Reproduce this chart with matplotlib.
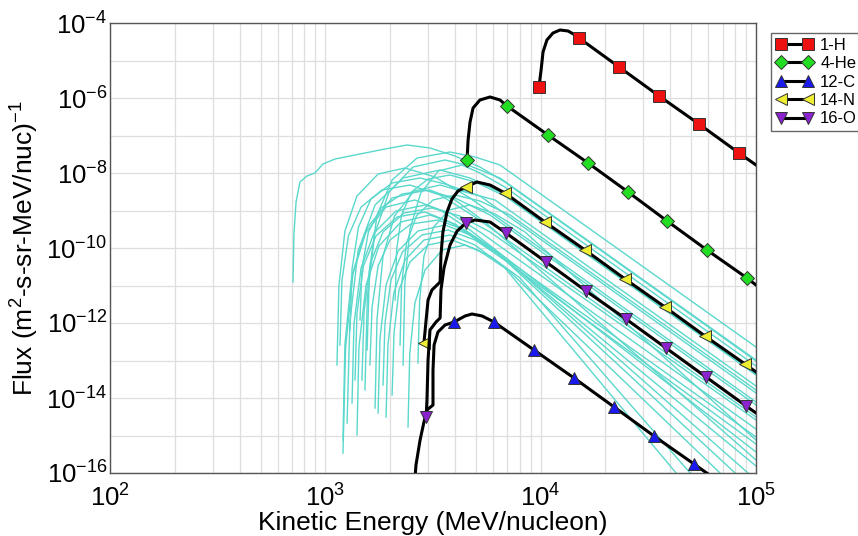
import numpy as np
import matplotlib
matplotlib.use("Agg")
import matplotlib.pyplot as plt
from matplotlib.lines import Line2D
from matplotlib.ticker import FixedLocator, LogLocator, LogFormatterSciNotation, NullFormatter

plt.rcParams["font.family"] = ["Liberation Sans", "DejaVu Sans"]
plt.rcParams["mathtext.fontset"] = "custom"
plt.rcParams["mathtext.rm"] = "Liberation Sans"
plt.rcParams["mathtext.it"] = "Liberation Sans:italic"
plt.rcParams["mathtext.bf"] = "Liberation Sans:bold"

# ─── DATA (log10 of kinetic energy [MeV/nucleon] and log10 of flux) ──────────
H_LGE = [3.992, 4.002, 4.011, 4.029, 4.057, 4.090, 4.127, 4.160, 4.178, 4.364, 4.550, 4.735, 4.921, 5.0]
H_LGF = [-5.707, -5.253, -4.773, -4.453, -4.267, -4.187, -4.213, -4.320, -4.400, -5.173, -5.947, -6.693, -7.467, -7.787]
H_MARK = [0, 8, 9, 10, 11, 12]

HE_LGE = [3.658, 3.663, 3.672, 3.686, 3.718, 3.765, 3.811, 3.844, 4.034, 4.220, 4.406, 4.587, 4.772, 4.958, 5.0]
HE_LGF = [-7.653, -7.120, -6.640, -6.267, -6.053, -5.973, -6.053, -6.213, -6.987, -7.733, -8.507, -9.280, -10.053, -10.800, -10.987]
HE_MARK = [0, 7, 8, 9, 10, 11, 12, 13]

C_LGE = [3.412, 3.421, 3.440, 3.458, 3.472, 3.500, 3.500, 3.505, 3.523, 3.556, 3.598, 3.649, 3.681, 3.728,
         3.783, 3.969, 4.155, 4.341, 4.526, 4.712, 4.833]
C_LGF = [-16.453, -15.787, -15.120, -14.640, -14.320, -14.187, -13.253, -12.587, -12.240, -12.053, -11.973,
         -11.813, -11.760, -11.813, -11.973, -12.720, -13.467, -14.240, -15.013, -15.760, -16.253]
C_MARK = [0, 10, 14, 15, 16, 17, 18, 19]

N_LGE = [3.458, 3.468, 3.477, 3.495, 3.533, 3.537, 3.546, 3.565, 3.588, 3.616, 3.653, 3.704, 3.765, 3.834,
         4.020, 4.206, 4.392, 4.577, 4.763, 4.949, 5.0]
N_LGF = [-12.533, -11.920, -11.387, -11.120, -10.907, -10.187, -9.573, -9.040, -8.693, -8.480, -8.373, -8.240,
         -8.320, -8.533, -9.307, -10.053, -10.827, -11.573, -12.347, -13.093, -13.307]
N_MARK = [0, 10, 13, 14, 15, 16, 17, 18, 19]

O_LGE = [3.468, 3.472, 3.477, 3.486, 3.514, 3.533, 3.537, 3.551, 3.579, 3.612, 3.653, 3.695, 3.765, 3.839,
         4.025, 4.211, 4.396, 4.582, 4.768, 4.954, 5.0]
O_LGF = [-14.507, -14.053, -12.987, -12.187, -11.973, -11.867, -11.120, -10.533, -9.920, -9.547, -9.333, -9.253,
         -9.307, -9.600, -10.373, -11.147, -11.893, -12.667, -13.440, -14.213, -14.400]
O_MARK = [0, 10, 13, 14, 15, 16, 17, 18, 19]

SPECIES = ["1-H", "4-He", "12-C", "14-N", "16-O"]

# individual (cyan) spectra, (log10 E, log10 flux) pairs
CYAN_TRACKS = [
    [(2.850, -10.907), (2.854, -9.653), (2.864, -8.773), (2.882, -8.240), (2.915, -8.080), (2.952, -8.000),
     (2.989, -7.760), (3.045, -7.627), (3.161, -7.493), (3.277, -7.360), (3.379, -7.253), (3.486, -7.333),
     (3.602, -7.547), (3.718, -7.840), (3.834, -8.240), (5.0, -13.013)],
    [(3.194, -12.720), (3.205, -10.613), (3.240, -9.120), (3.310, -8.187), (3.426, -7.600), (3.579, -7.440),
     (3.695, -7.573), (3.811, -7.787), (5.0, -12.640)],
    [(3.184, -13.787), (3.195, -11.333), (3.229, -9.627), (3.296, -8.507), (3.407, -7.840), (3.556, -7.653),
     (3.672, -7.813), (3.811, -8.133), (5.0, -12.987)],
    [(3.361, -13.120), (3.369, -10.987), (3.393, -9.493), (3.443, -8.533), (3.525, -7.947), (3.635, -7.787),
     (3.718, -8.000), (3.834, -8.373), (5.0, -13.147)],
    [(3.101, -14.667), (3.114, -11.973), (3.152, -10.080), (3.231, -8.853), (3.361, -8.133), (3.533, -7.920),
     (3.672, -8.133), (3.811, -8.507), (5.0, -13.360)],
    [(3.054, -13.120), (3.063, -11.013), (3.091, -9.547), (3.147, -8.613), (3.245, -8.027), (3.370, -7.867),
     (3.509, -8.107), (3.672, -8.667), (5.0, -14.107)],
    [(3.231, -14.267), (3.240, -11.893), (3.268, -10.213), (3.321, -9.147), (3.412, -8.480), (3.533, -8.320),
     (3.649, -8.507), (3.788, -8.720), (5.0, -13.680)],
    [(3.115, -12.187), (3.124, -10.560), (3.154, -9.440), (3.212, -8.693), (3.310, -8.267), (3.440, -8.133),
     (3.556, -8.293), (3.718, -8.613), (5.0, -13.867)],
    [(3.082, -15.467), (3.094, -12.667), (3.128, -10.693), (3.196, -9.440), (3.310, -8.667), (3.463, -8.453),
     (3.602, -8.667), (3.765, -9.120), (5.0, -14.187)],
    [(3.347, -12.587), (3.354, -10.987), (3.377, -9.867), (3.423, -9.147), (3.500, -8.720), (3.602, -8.587),
     (3.718, -8.747), (3.858, -9.120), (5.0, -13.787)],
    [(3.124, -14.133), (3.133, -12.027), (3.166, -10.533), (3.226, -9.600), (3.328, -9.013), (3.463, -8.853),
     (3.579, -9.067), (3.718, -9.573), (5.0, -14.827)],
    [(3.147, -14.987), (3.156, -12.640), (3.189, -10.987), (3.249, -9.947), (3.351, -9.307), (3.486, -9.120),
     (3.602, -9.360), (3.742, -9.893), (5.0, -15.040)],
    [(3.138, -13.520), (3.147, -11.733), (3.177, -10.480), (3.235, -9.680), (3.333, -9.173), (3.463, -9.040),
     (3.579, -9.307), (3.718, -9.840), (5.0, -15.227)],
    [(3.082, -15.120), (3.091, -12.560), (3.122, -10.773), (3.182, -9.627), (3.282, -8.907), (3.416, -8.720),
     (3.533, -8.987), (3.672, -9.520), (5.0, -15.440)],
    [(3.161, -11.920), (3.170, -10.533), (3.200, -9.573), (3.259, -8.933), (3.356, -8.560), (3.486, -8.453),
     (3.602, -8.720), (3.742, -9.307), (5.0, -15.653)],
    [(3.245, -14.400), (3.254, -12.400), (3.282, -10.987), (3.338, -10.080), (3.430, -9.547), (3.556, -9.387),
     (3.672, -9.653), (3.811, -10.187), (5.0, -15.813)],
    [(3.170, -13.520), (3.180, -11.680), (3.209, -10.400), (3.268, -9.573), (3.365, -9.067), (3.495, -8.933),
     (3.625, -9.147), (3.765, -9.573), (5.0, -14.587)],
    [(3.207, -13.120), (3.217, -11.573), (3.245, -10.480), (3.300, -9.787), (3.398, -9.360), (3.523, -9.253),
     (3.649, -9.520), (3.788, -10.053), (4.963, -16.0)],
    [(3.268, -13.653), (3.277, -12.000), (3.305, -10.853), (3.358, -10.107), (3.449, -9.653), (3.570, -9.520),
     (3.695, -9.787), (3.834, -10.320), (4.903, -16.0)],
    [(3.310, -13.920), (3.319, -12.267), (3.342, -11.120), (3.393, -10.373), (3.477, -9.920), (3.588, -9.787),
     (3.709, -10.053), (3.848, -10.587), (4.833, -16.0)],
    [(3.282, -14.507), (3.291, -12.560), (3.318, -11.200), (3.370, -10.320), (3.458, -9.787), (3.579, -9.653),
     (3.695, -9.920), (3.834, -10.533), (4.629, -16.0)],
    [(3.384, -14.773), (3.392, -12.827), (3.416, -11.467), (3.463, -10.587), (3.542, -10.053), (3.649, -9.920),
     (3.765, -10.213), (3.904, -10.800), (4.694, -16.0)],
    [(3.068, -12.587), (3.077, -10.880), (3.107, -9.680), (3.166, -8.907), (3.263, -8.453), (3.393, -8.320),
     (3.533, -8.587), (3.695, -9.173), (5.0, -14.507)],
    [(3.324, -11.387), (3.331, -10.053), (3.354, -9.120), (3.400, -8.507), (3.477, -8.160), (3.579, -8.053),
     (3.695, -8.240), (3.834, -8.613), (5.0, -13.387)],
    [(3.430, -13.067), (3.438, -11.387), (3.458, -10.213), (3.503, -9.440), (3.574, -8.987), (3.672, -8.853),
     (3.788, -9.093), (3.927, -9.573), (5.0, -15.120)],
]

# ─── STYLE ───────────────────────────────────────────────────────────────────
CYAN = "#5ad8cc"
STYLES = {
    "1-H": dict(marker="s", mfc="#ee1111", ms=8),
    "4-He": dict(marker="D", mfc="#22dd22", ms=7),
    "12-C": dict(marker="^", mfc="#1a1aee", ms=9),
    "14-N": dict(marker="<", mfc="#eeee33", ms=9),
    "16-O": dict(marker="v", mfc="#8a22d0", ms=9),
}


def plot_chart():
    fig = plt.figure(figsize=(8.58, 5.36), dpi=100)
    ax = fig.add_axes([110 / 858, 63 / 536, 646 / 858, 450 / 536])

    for track in CYAN_TRACKS:
        e, f = zip(*track)
        ax.plot(10 ** np.array(e), 10 ** np.array(f), color=CYAN, lw=1.0, zorder=2)

    series = [
        ("1-H", H_LGE, H_LGF, H_MARK),
        ("4-He", HE_LGE, HE_LGF, HE_MARK),
        ("12-C", C_LGE, C_LGF, C_MARK),
        ("14-N", N_LGE, N_LGF, N_MARK),
        ("16-O", O_LGE, O_LGF, O_MARK),
    ]
    handles = []
    for name, lge, lgf, marks in series:
        st = STYLES[name]
        ax.plot(10 ** np.array(lge), 10 ** np.array(lgf), color="black", lw=2.2, zorder=3,
                marker=st["marker"], markevery=marks, mfc=st["mfc"], mec="#333333",
                mew=0.7, ms=st["ms"])
        handles.append(Line2D([], [], color="black", lw=2.2, marker=st["marker"], mfc=st["mfc"],
                              mec="#333333", mew=0.7, ms=st["ms"]))

    ax.set_xscale("log")
    ax.set_yscale("log")
    ax.set_xlim(1e2, 1e5)
    ax.set_ylim(1e-16, 1e-4)

    ax.yaxis.set_major_locator(FixedLocator([10.0 ** k for k in range(-16, -3, 2)]))
    ax.yaxis.set_minor_locator(FixedLocator([10.0 ** k for k in range(-15, -4, 2)]))
    ax.yaxis.set_major_formatter(LogFormatterSciNotation())
    ax.yaxis.set_minor_formatter(NullFormatter())
    ax.xaxis.set_major_locator(LogLocator(base=10))
    ax.xaxis.set_minor_locator(LogLocator(base=10, subs=np.arange(2, 10)))
    ax.xaxis.set_minor_formatter(NullFormatter())

    ax.grid(which="both", color="#dedede", lw=0.9)
    ax.set_axisbelow(True)
    ax.tick_params(which="both", length=0, labelsize=18.5)
    ax.tick_params(axis="x", pad=8)
    ax.tick_params(axis="y", pad=2)
    for sp in ax.spines.values():
        sp.set_color("#555555")
        sp.set_linewidth(1.0)

    ax.set_xlabel("Kinetic Energy (MeV/nucleon)", fontsize=19, labelpad=0)
    ax.set_ylabel("Flux (m$^2$-s-sr-MeV/nuc)$^{-1}$", fontsize=19, labelpad=4)

    # legend runs off the right edge of the figure, as in the original
    fig.legend(handles, SPECIES, loc="upper left", bbox_to_anchor=(771 / 858, 1 - 33 / 536),
               numpoints=2, fontsize=12, handlelength=2.2, handletextpad=0.45, labelspacing=0.2,
               borderpad=0.3, borderaxespad=0, fancybox=False, framealpha=1, edgecolor="#666666")

    fig.savefig("out.png", dpi=100)


if __name__ == "__main__":
    plot_chart()
